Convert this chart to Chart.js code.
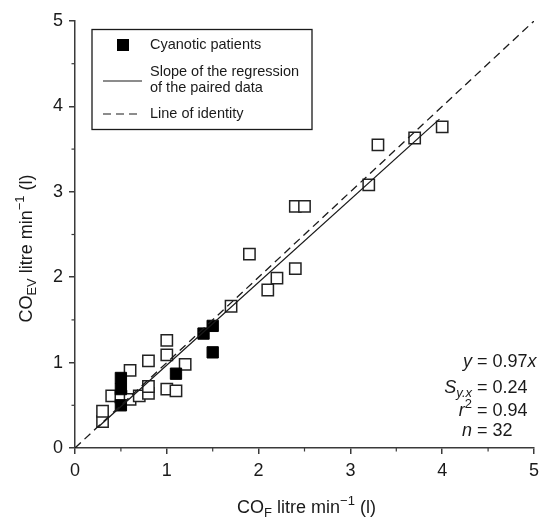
<!doctype html>
<html lang="en">
<head>
  <meta charset="UTF-8">
  <title>CO EV vs CO F</title>
  <script src="https://cdn.jsdelivr.net/npm/chart.js@4.4.0/dist/chart.umd.min.js"></script>
  <style>
      html, body {
          margin: 0;
          padding: 0;
          background: #fff;
      }
      .container {
          width: 545px;
          height: 518px;
      }
  </style>
</head>
<body>

<div class="container">
  <canvas id="myChart" width="545" height="518"></canvas>
</div>

<script>
  // open squares (all other patients)
  const openX = [0.3, 0.3, 0.4, 0.5, 0.6, 0.6, 0.7, 0.8, 0.8, 0.8, 1.0, 1.0, 1.0, 1.1, 1.2, 1.7, 1.9, 2.1, 2.2, 2.4, 2.4, 2.5, 3.2, 3.3, 3.7, 4.0]
  const openY = [0.31, 0.43, 0.61, 0.60, 0.57, 0.91, 0.61, 0.64, 0.72, 1.02, 0.69, 1.09, 1.26, 0.67, 0.98, 1.66, 2.27, 1.85, 1.99, 2.10, 2.83, 2.83, 3.08, 3.55, 3.63, 3.76]
  // filled squares (cyanotic patients)
  const cyanX = [0.5, 0.5, 0.5, 1.1, 1.4, 1.5, 1.5]
  const cyanY = [0.50, 0.69, 0.82, 0.87, 1.34, 1.43, 1.12]
  // regression y = slope * x over the range of the data
  const slope = 0.97
  const regRange = [0.25, 3.97]
  const identityRange = [0, 5]
  const tickValues = [0, 1, 2, 3, 4, 5]

  const FONT = '"Liberation Sans", Arial, Helvetica, sans-serif'
  const INK = '#1a1a1a'
  const AXIS = '#3a3a3a'

  const pts = (xs, ys) => xs.map((x, i) => ({x: x, y: ys[i]}))

  // draws text made of runs (italic / sub / superscript)
  function runFont(r, size) {
    return (r.i ? 'italic ' : '') + Math.round((r.sub || r.sup) ? size * 0.72 : size) + 'px ' + FONT
  }
  function runsWidth(ctx, runs, size) {
    let w = 0
    runs.forEach(r => { ctx.font = runFont(r, size); w += ctx.measureText(r.t).width })
    return w
  }
  function richText(ctx, runs, x, y, size, align) {
    const total = runsWidth(ctx, runs, size)
    let cx = align === 'center' ? x - total / 2 : x
    ctx.textBaseline = 'middle'
    ctx.textAlign = 'left'
    runs.forEach(r => {
      ctx.font = runFont(r, size)
      let dy = 0
      if (r.sub) dy = size * 0.32
      if (r.sup) dy = -size * 0.38
      ctx.fillText(r.t, cx, y + dy)
      cx += ctx.measureText(r.t).width
    })
    return total
  }

  const extras = {
    id: 'extras',
    afterDraw(chart) {
      const ctx = chart.ctx
      const xs = chart.scales.x
      const ys = chart.scales.y
      const bottom = chart.chartArea.bottom
      const left = chart.chartArea.left
      ctx.save()
      ctx.fillStyle = INK

      // minor ticks (outward)
      ctx.strokeStyle = AXIS
      ctx.lineWidth = 1.2
      for (let v = 0.5; v < 5; v += 1) {
        const px = xs.getPixelForValue(v)
        ctx.beginPath(); ctx.moveTo(px, bottom); ctx.lineTo(px, bottom + 3.5); ctx.stroke()
        const py = ys.getPixelForValue(v)
        ctx.beginPath(); ctx.moveTo(left, py); ctx.lineTo(left - 3.5, py); ctx.stroke()
      }

      // axis titles
      richText(ctx, [{t: 'CO'}, {t: 'F', sub: 1}, {t: ' litre min'}, {t: '\u22121', sup: 1}, {t: ' (l)'}],
        (xs.left + xs.right) / 2 + 2, 508, 18, 'center')
      ctx.save()
      ctx.translate(27, (ys.top + ys.bottom) / 2 + 14)
      ctx.rotate(-Math.PI / 2)
      richText(ctx, [{t: 'CO'}, {t: 'EV', sub: 1}, {t: ' litre min'}, {t: '\u22121', sup: 1}, {t: ' (l)'}],
        0, 0, 18, 'center')
      ctx.restore()

      // statistics block, aligned on the equals signs
      const eqX = 472
      const stats = [
        [[{t: 'y', i: 1}], [{t: ' = 0.97'}, {t: 'x', i: 1}]],
        [[{t: 'S', i: 1}, {t: 'y.x', i: 1, sub: 1}], [{t: ' = 0.24'}]],
        [[{t: 'r', i: 1}, {t: '2', sup: 1}], [{t: ' = 0.94'}]],
        [[{t: 'n', i: 1}], [{t: ' = 32'}]]
      ]
      const rowY = [362, 388, 411, 431]
      stats.forEach((row, k) => {
        const w = runsWidth(ctx, row[0], 18)
        richText(ctx, row[0], eqX - w, rowY[k], 18, 'left')
        richText(ctx, row[1], eqX, rowY[k], 18, 'left')
      })

      // legend box
      ctx.strokeStyle = INK
      ctx.lineWidth = 1.3
      ctx.strokeRect(92, 29.5, 220, 100)
      ctx.fillStyle = '#000'
      ctx.fillRect(117, 39, 12, 12)
      ctx.lineWidth = 1.2
      ctx.beginPath(); ctx.moveTo(103, 81); ctx.lineTo(142, 81); ctx.stroke()
      ctx.setLineDash([8, 5])
      ctx.beginPath(); ctx.moveTo(103, 114); ctx.lineTo(142, 114); ctx.stroke()
      ctx.setLineDash([])
      ctx.fillStyle = INK
      ctx.font = '14.5px ' + FONT
      ctx.textBaseline = 'middle'
      ctx.textAlign = 'left'
      ctx.fillText('Cyanotic patients', 150, 45)
      ctx.fillText('Slope of the regression', 150, 72)
      ctx.fillText('of the paired data', 150, 88)
      ctx.fillText('Line of identity', 150, 114)
      ctx.restore()
    }
  }

  const chartDom = document.querySelector('#myChart')

  const chart = new Chart(chartDom, {
    type: 'scatter',
    plugins: [extras],
    data: {
      datasets: [
        {
          type: 'line',
          label: 'Line of identity',
          data: identityRange.map(x => ({x: x, y: x})),
          borderColor: INK,
          borderWidth: 1.3,
          borderDash: [8, 5],
          pointRadius: 0,
          fill: false
        },
        {
          type: 'line',
          label: 'Slope of the regression of the paired data',
          data: regRange.map(x => ({x: x, y: slope * x})),
          borderColor: INK,
          borderWidth: 1.3,
          pointRadius: 0,
          fill: false
        },
        {
          label: 'Cyanotic patients',
          data: pts(cyanX, cyanY),
          pointStyle: 'rect',
          pointRadius: 8,
          backgroundColor: '#000',
          borderColor: '#000',
          borderWidth: 1
        },
        {
          label: 'Other patients',
          data: pts(openX, openY),
          pointStyle: 'rect',
          pointRadius: 8,
          backgroundColor: '#fff',
          borderColor: '#222',
          borderWidth: 1.5
        }
      ]
    },
    options: {
      responsive: false,
      animation: false,
      events: [],
      layout: {
        padding: {top: 21, right: 5, left: 0, bottom: 0}
      },
      plugins: {
        legend: {display: false},
        tooltip: {enabled: false}
      },
      scales: {
        x: {
          type: 'linear',
          min: 0,
          max: 5,
          afterFit: (scale) => { scale.height = 70 },
          afterBuildTicks: (scale) => { scale.ticks = tickValues.map(v => ({value: v})) },
          border: {display: true, color: AXIS, width: 1.5},
          grid: {drawOnChartArea: false, tickLength: 6, color: AXIS, lineWidth: 1.5},
          ticks: {
            color: INK,
            padding: 6,
            font: {family: FONT, size: 18}
          }
        },
        y: {
          type: 'linear',
          min: 0,
          max: 5,
          afterFit: (scale) => { scale.width = 75 },
          afterBuildTicks: (scale) => { scale.ticks = tickValues.map(v => ({value: v})) },
          border: {display: true, color: AXIS, width: 1.5},
          grid: {drawOnChartArea: false, tickLength: 6, color: AXIS, lineWidth: 1.5},
          ticks: {
            color: INK,
            padding: 6,
            font: {family: FONT, size: 18}
          }
        }
      }
    }
  })
</script>

</body>
</html>
